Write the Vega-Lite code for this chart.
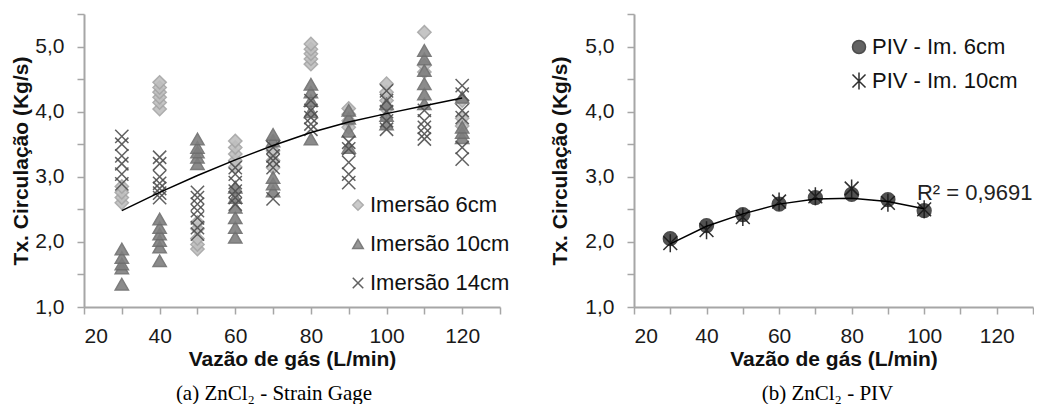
{
  "$schema": "https://vega.github.io/schema/vega-lite/v6.json",
  "padding": {"left": 10, "top": 13, "right": 0, "bottom": 0},
  "background": "white",
  "bounds": "flush",
  "spacing": 134,
  "config": {
    "view": {"stroke": null},
    "font": "Liberation Sans",
    "axis": {"grid": false, "domainColor": "#a6a6a6", "domainWidth": 2, "tickColor": "#a6a6a6", "tickWidth": 1.5, "tickSize": 7,
      "labelFont": "Liberation Sans", "labelFontSize": 21, "labelColor": "#1a1a1a", "labelPadding": 11,
      "titleFont": "Liberation Sans", "titleFontSize": 21, "titleFontWeight": "bold", "titleColor": "#111"},
    "legend": {"labelFont": "Liberation Sans", "labelFontSize": 22, "labelColor": "#111", "symbolStrokeWidth": 1.5},
    "title": {"font": "Liberation Serif", "fontSize": 21, "fontWeight": "normal", "color": "#000", "orient": "bottom", "frame": "group", "anchor": "middle"}
  },
  "datasets": {
    "strain": [
      {"x":30,"y":2.6,"s":"Imersão 6cm"},{"x":30,"y":2.68,"s":"Imersão 6cm"},{"x":30,"y":2.76,"s":"Imersão 6cm"},{"x":30,"y":2.85,"s":"Imersão 6cm"},
      {"x":40,"y":4.04,"s":"Imersão 6cm"},{"x":40,"y":4.14,"s":"Imersão 6cm"},{"x":40,"y":4.22,"s":"Imersão 6cm"},{"x":40,"y":4.3,"s":"Imersão 6cm"},{"x":40,"y":4.37,"s":"Imersão 6cm"},{"x":40,"y":4.45,"s":"Imersão 6cm"},
      {"x":50,"y":1.89,"s":"Imersão 6cm"},{"x":50,"y":1.96,"s":"Imersão 6cm"},{"x":50,"y":2.05,"s":"Imersão 6cm"},{"x":50,"y":2.2,"s":"Imersão 6cm"},{"x":50,"y":2.3,"s":"Imersão 6cm"},
      {"x":60,"y":3.15,"s":"Imersão 6cm"},{"x":60,"y":3.25,"s":"Imersão 6cm"},{"x":60,"y":3.35,"s":"Imersão 6cm"},{"x":60,"y":3.45,"s":"Imersão 6cm"},{"x":60,"y":3.55,"s":"Imersão 6cm"},
      {"x":70,"y":3.14,"s":"Imersão 6cm"},{"x":70,"y":3.25,"s":"Imersão 6cm"},{"x":70,"y":3.4,"s":"Imersão 6cm"},{"x":70,"y":3.55,"s":"Imersão 6cm"},
      {"x":80,"y":4.73,"s":"Imersão 6cm"},{"x":80,"y":4.81,"s":"Imersão 6cm"},{"x":80,"y":4.89,"s":"Imersão 6cm"},{"x":80,"y":4.96,"s":"Imersão 6cm"},{"x":80,"y":5.04,"s":"Imersão 6cm"},
      {"x":90,"y":3.76,"s":"Imersão 6cm"},{"x":90,"y":3.86,"s":"Imersão 6cm"},{"x":90,"y":3.96,"s":"Imersão 6cm"},{"x":90,"y":4.05,"s":"Imersão 6cm"},
      {"x":100,"y":4.04,"s":"Imersão 6cm"},{"x":100,"y":4.17,"s":"Imersão 6cm"},{"x":100,"y":4.3,"s":"Imersão 6cm"},{"x":100,"y":4.43,"s":"Imersão 6cm"},
      {"x":110,"y":4.61,"s":"Imersão 6cm"},{"x":110,"y":4.71,"s":"Imersão 6cm"},{"x":110,"y":5.22,"s":"Imersão 6cm"},
      {"x":120,"y":3.78,"s":"Imersão 6cm"},{"x":120,"y":3.9,"s":"Imersão 6cm"},{"x":120,"y":4.17,"s":"Imersão 6cm"},
      {"x":30,"y":1.35,"s":"Imersão 10cm"},{"x":30,"y":1.6,"s":"Imersão 10cm"},{"x":30,"y":1.66,"s":"Imersão 10cm"},{"x":30,"y":1.76,"s":"Imersão 10cm"},{"x":30,"y":1.89,"s":"Imersão 10cm"},
      {"x":40,"y":1.71,"s":"Imersão 10cm"},{"x":40,"y":1.92,"s":"Imersão 10cm"},{"x":40,"y":2.02,"s":"Imersão 10cm"},{"x":40,"y":2.12,"s":"Imersão 10cm"},{"x":40,"y":2.22,"s":"Imersão 10cm"},{"x":40,"y":2.35,"s":"Imersão 10cm"},
      {"x":50,"y":3.2,"s":"Imersão 10cm"},{"x":50,"y":3.3,"s":"Imersão 10cm"},{"x":50,"y":3.38,"s":"Imersão 10cm"},{"x":50,"y":3.45,"s":"Imersão 10cm"},{"x":50,"y":3.58,"s":"Imersão 10cm"},
      {"x":60,"y":2.07,"s":"Imersão 10cm"},{"x":60,"y":2.22,"s":"Imersão 10cm"},{"x":60,"y":2.37,"s":"Imersão 10cm"},{"x":60,"y":2.53,"s":"Imersão 10cm"},{"x":60,"y":2.68,"s":"Imersão 10cm"},{"x":60,"y":2.84,"s":"Imersão 10cm"},
      {"x":70,"y":2.78,"s":"Imersão 10cm"},{"x":70,"y":2.89,"s":"Imersão 10cm"},{"x":70,"y":2.99,"s":"Imersão 10cm"},{"x":70,"y":3.55,"s":"Imersão 10cm"},{"x":70,"y":3.65,"s":"Imersão 10cm"},
      {"x":80,"y":3.58,"s":"Imersão 10cm"},{"x":80,"y":4.0,"s":"Imersão 10cm"},{"x":80,"y":4.17,"s":"Imersão 10cm"},{"x":80,"y":4.3,"s":"Imersão 10cm"},{"x":80,"y":4.42,"s":"Imersão 10cm"},
      {"x":90,"y":3.45,"s":"Imersão 10cm"},{"x":90,"y":3.7,"s":"Imersão 10cm"},{"x":90,"y":3.9,"s":"Imersão 10cm"},{"x":90,"y":4.02,"s":"Imersão 10cm"},
      {"x":100,"y":3.81,"s":"Imersão 10cm"},{"x":100,"y":3.94,"s":"Imersão 10cm"},{"x":100,"y":4.12,"s":"Imersão 10cm"},
      {"x":110,"y":4.12,"s":"Imersão 10cm"},{"x":110,"y":4.27,"s":"Imersão 10cm"},{"x":110,"y":4.43,"s":"Imersão 10cm"},{"x":110,"y":4.63,"s":"Imersão 10cm"},{"x":110,"y":4.81,"s":"Imersão 10cm"},{"x":110,"y":4.94,"s":"Imersão 10cm"},
      {"x":120,"y":3.6,"s":"Imersão 10cm"},{"x":120,"y":3.68,"s":"Imersão 10cm"},{"x":120,"y":3.76,"s":"Imersão 10cm"},{"x":120,"y":4.22,"s":"Imersão 10cm"},
      {"x":30,"y":2.89,"s":"Imersão 14cm"},{"x":30,"y":3.04,"s":"Imersão 14cm"},{"x":30,"y":3.2,"s":"Imersão 14cm"},{"x":30,"y":3.32,"s":"Imersão 14cm"},{"x":30,"y":3.5,"s":"Imersão 14cm"},{"x":30,"y":3.62,"s":"Imersão 14cm"},
      {"x":40,"y":2.68,"s":"Imersão 14cm"},{"x":40,"y":2.75,"s":"Imersão 14cm"},{"x":40,"y":2.82,"s":"Imersão 14cm"},{"x":40,"y":2.9,"s":"Imersão 14cm"},{"x":40,"y":3.0,"s":"Imersão 14cm"},{"x":40,"y":3.2,"s":"Imersão 14cm"},{"x":40,"y":3.3,"s":"Imersão 14cm"},
      {"x":50,"y":2.12,"s":"Imersão 14cm"},{"x":50,"y":2.22,"s":"Imersão 14cm"},{"x":50,"y":2.37,"s":"Imersão 14cm"},{"x":50,"y":2.48,"s":"Imersão 14cm"},{"x":50,"y":2.58,"s":"Imersão 14cm"},{"x":50,"y":2.68,"s":"Imersão 14cm"},{"x":50,"y":2.76,"s":"Imersão 14cm"},
      {"x":60,"y":2.58,"s":"Imersão 14cm"},{"x":60,"y":2.68,"s":"Imersão 14cm"},{"x":60,"y":2.78,"s":"Imersão 14cm"},{"x":60,"y":2.91,"s":"Imersão 14cm"},{"x":60,"y":3.04,"s":"Imersão 14cm"},{"x":60,"y":3.14,"s":"Imersão 14cm"},
      {"x":70,"y":2.66,"s":"Imersão 14cm"},{"x":70,"y":3.14,"s":"Imersão 14cm"},{"x":70,"y":3.25,"s":"Imersão 14cm"},{"x":70,"y":3.32,"s":"Imersão 14cm"},{"x":70,"y":3.45,"s":"Imersão 14cm"},
      {"x":80,"y":3.73,"s":"Imersão 14cm"},{"x":80,"y":3.81,"s":"Imersão 14cm"},{"x":80,"y":3.91,"s":"Imersão 14cm"},{"x":80,"y":4.02,"s":"Imersão 14cm"},{"x":80,"y":4.17,"s":"Imersão 14cm"},
      {"x":90,"y":2.91,"s":"Imersão 14cm"},{"x":90,"y":3.04,"s":"Imersão 14cm"},{"x":90,"y":3.22,"s":"Imersão 14cm"},{"x":90,"y":3.43,"s":"Imersão 14cm"},{"x":90,"y":3.53,"s":"Imersão 14cm"},
      {"x":100,"y":3.73,"s":"Imersão 14cm"},{"x":100,"y":3.86,"s":"Imersão 14cm"},{"x":100,"y":4.0,"s":"Imersão 14cm"},{"x":100,"y":4.17,"s":"Imersão 14cm"},{"x":100,"y":4.32,"s":"Imersão 14cm"},
      {"x":110,"y":3.58,"s":"Imersão 14cm"},{"x":110,"y":3.66,"s":"Imersão 14cm"},{"x":110,"y":3.76,"s":"Imersão 14cm"},{"x":110,"y":3.86,"s":"Imersão 14cm"},{"x":110,"y":4.02,"s":"Imersão 14cm"},
      {"x":120,"y":3.27,"s":"Imersão 14cm"},{"x":120,"y":3.45,"s":"Imersão 14cm"},{"x":120,"y":3.91,"s":"Imersão 14cm"},{"x":120,"y":4.02,"s":"Imersão 14cm"},{"x":120,"y":4.27,"s":"Imersão 14cm"},{"x":120,"y":4.4,"s":"Imersão 14cm"}
    ],
    "fitA": [
      {"x":30,"y":2.48},{"x":40,"y":2.76},{"x":50,"y":3.02},{"x":60,"y":3.26},{"x":70,"y":3.48},
      {"x":80,"y":3.68},{"x":90,"y":3.84},{"x":100,"y":3.97},{"x":110,"y":4.09},{"x":120,"y":4.21}
    ],
    "piv": [
      {"x":30,"y":2.05,"s":"PIV - Im. 6cm"},{"x":40,"y":2.25,"s":"PIV - Im. 6cm"},{"x":50,"y":2.42,"s":"PIV - Im. 6cm"},{"x":60,"y":2.58,"s":"PIV - Im. 6cm"},
      {"x":70,"y":2.68,"s":"PIV - Im. 6cm"},{"x":80,"y":2.73,"s":"PIV - Im. 6cm"},{"x":90,"y":2.65,"s":"PIV - Im. 6cm"},{"x":100,"y":2.48,"s":"PIV - Im. 6cm"},
      {"x":30,"y":1.98,"s":"PIV - Im. 10cm"},{"x":40,"y":2.18,"s":"PIV - Im. 10cm"},{"x":50,"y":2.38,"s":"PIV - Im. 10cm"},{"x":60,"y":2.62,"s":"PIV - Im. 10cm"},
      {"x":70,"y":2.7,"s":"PIV - Im. 10cm"},{"x":80,"y":2.82,"s":"PIV - Im. 10cm"},{"x":90,"y":2.6,"s":"PIV - Im. 10cm"},{"x":100,"y":2.5,"s":"PIV - Im. 10cm"}
    ],
    "fitB": [
      {"x":30,"y":1.97},{"x":40,"y":2.24},{"x":50,"y":2.43},{"x":60,"y":2.58},{"x":70,"y":2.66},
      {"x":80,"y":2.67},{"x":90,"y":2.62},{"x":100,"y":2.51}
    ],
    "r2": [{"x":98,"y":2.75,"t":"R² = 0,9691"}]
  },
  "hconcat": [
    {
      "width": 416, "height": 293,
      "title": {"text": "(a) ZnCl₂ - Strain  Gage", "dx": -18, "offset": 14},
      "encoding": {
        "x": {"field": "x", "type": "quantitative", "scale": {"domain": [20, 130], "nice": false, "zero": false},
          "axis": {"values": [20,30,40,50,60,70,80,90,100,110,120,130], "labelExpr": "datum.value % 20 == 0 ? datum.value : ''", "title": "Vazão de gás (L/min)", "titlePadding": 2}},
        "y": {"field": "y", "type": "quantitative", "scale": {"domain": [1, 5.5], "nice": false, "zero": false},
          "axis": {"values": [1,1.5,2,2.5,3,3.5,4,4.5,5,5.5], "labelExpr": "datum.value % 1 == 0 ? replace(format(datum.value, '.1f'), '.', ',') : ''", "title": "Tx. Circulação (Kg/s)", "titlePadding": 3, "labelPadding": 13}}
      },
      "layer": [
        {
          "data": {"name": "strain"},
          "mark": {"type": "point", "filled": true, "strokeWidth": 1.5, "opacity": 0.9, "size": 175},
          "encoding": {
            "shape": {"field": "s", "type": "nominal", "scale": {"domain": ["Imersão 6cm", "Imersão 10cm", "Imersão 14cm"], "range": ["diamond", "triangle-up", "M-1,-1L1,1M-1,1L1,-1"]},
              "legend": {"orient": "none", "legendX": 263, "legendY": 180, "title": null, "symbolSize": 110, "rowPadding": 17, "labelOffset": 1}},
            "fill": {"field": "s", "type": "nominal", "scale": {"domain": ["Imersão 6cm", "Imersão 10cm", "Imersão 14cm"], "range": ["#bfbfbf", "#7f7f7f", "transparent"]}},
            "stroke": {"field": "s", "type": "nominal", "scale": {"domain": ["Imersão 6cm", "Imersão 10cm", "Imersão 14cm"], "range": ["#a5a5a5", "#6e6e6e", "#505050"]}}
          }
        },
        {
          "data": {"name": "fitA"},
          "mark": {"type": "line", "color": "#000", "strokeWidth": 1.5}
        }
      ]
    },
    {
      "width": 399, "height": 293,
      "title": {"text": "(b) ZnCl₂ - PIV", "dx": -6, "offset": 14},
      "encoding": {
        "x": {"field": "x", "type": "quantitative", "scale": {"domain": [20, 130], "nice": false, "zero": false},
          "axis": {"values": [20,30,40,50,60,70,80,90,100,110,120,130], "labelExpr": "datum.value % 20 == 0 ? datum.value : ''", "title": "Vazão de gás (L/min)", "titlePadding": 2}},
        "y": {"field": "y", "type": "quantitative", "scale": {"domain": [1, 5.5], "nice": false, "zero": false},
          "axis": {"values": [1,1.5,2,2.5,3,3.5,4,4.5,5,5.5], "labelExpr": "datum.value % 1 == 0 ? replace(format(datum.value, '.1f'), '.', ',') : ''", "title": "Tx. Circulação (Kg/s)", "titlePadding": 14, "labelPadding": 13}}
      },
      "layer": [
        {
          "data": {"name": "piv"},
          "mark": {"type": "point", "filled": true, "strokeWidth": 1.5, "opacity": 0.9, "size": 190},
          "encoding": {
            "shape": {"field": "s", "type": "nominal", "scale": {"domain": ["PIV - Im. 6cm", "PIV - Im. 10cm"], "range": ["circle", "M-1,-1L1,1M-1,1L1,-1M0,-1.3L0,1.3"]},
              "legend": {"orient": "none", "legendX": 214, "legendY": 22, "title": null, "symbolSize": 170, "rowPadding": 11, "labelOffset": 2}},
            "fill": {"field": "s", "type": "nominal", "scale": {"domain": ["PIV - Im. 6cm", "PIV - Im. 10cm"], "range": ["#404040", "transparent"]}},
            "stroke": {"field": "s", "type": "nominal", "scale": {"domain": ["PIV - Im. 6cm", "PIV - Im. 10cm"], "range": ["#3a3a3a", "#1a1a1a"]}}
          }
        },
        {
          "data": {"name": "fitB"},
          "mark": {"type": "line", "color": "#000", "strokeWidth": 1.5}
        },
        {
          "data": {"name": "r2"},
          "mark": {"type": "text", "align": "left", "baseline": "middle", "fontSize": 22, "color": "#222", "font": "Liberation Sans"},
          "encoding": {"text": {"field": "t"}}
        }
      ]
    }
  ],
  "resolve": {"scale": {"shape": "independent", "fill": "independent", "stroke": "independent"}, "legend": {"shape": "independent", "fill": "independent", "stroke": "independent"}}
}
